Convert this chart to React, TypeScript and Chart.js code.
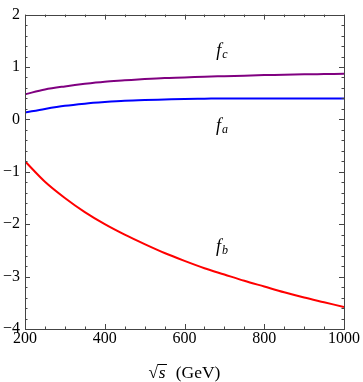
import React, { useEffect, useRef } from "react";
import { Chart, registerables } from "chart.js";

Chart.register(...registerables);

// sqrt(s) in GeV
const energies = [200, 250, 300, 350, 400, 450, 500, 550, 600, 650, 700, 750, 800, 850, 900, 950, 1000];
const fa = [0.13, 0.2, 0.26, 0.3, 0.33, 0.355, 0.37, 0.38, 0.39, 0.395, 0.4, 0.4, 0.4, 0.4, 0.4, 0.4, 0.4];
const fb = [-0.8, -1.19, -1.5, -1.77, -2.0, -2.2, -2.38, -2.55, -2.7, -2.84, -2.96, -3.08, -3.19, -3.3, -3.4, -3.49, -3.58];
const fc = [0.48, 0.57, 0.63, 0.68, 0.72, 0.745, 0.77, 0.79, 0.8, 0.815, 0.825, 0.835, 0.845, 0.85, 0.86, 0.865, 0.87];

const xTicks = [200, 400, 600, 800, 1000];
const yTicks = [-4, -3, -2, -1, 0, 1, 2];

const seriesNames = ["fa", "fb", "fc"];
const curveLabelSubs = ["a", "b", "c"];
const curveLabelX = [694, 694, 694];
const curveLabelY = [-0.13, -2.43, 1.3];

const xTitleMain = "s";
const xTitleUnit = "(GeV)";

const SERIF = "'Liberation Serif', 'DejaVu Serif', serif";

const framePlugin = {
  id: "frameTicks",
  afterDraw(chart: any) {
    const { ctx, chartArea, scales } = chart;
    const { left, right, top, bottom } = chartArea;
    const xs = scales.x;
    const ys = scales.y;
    ctx.save();
    ctx.strokeStyle = "#444";
    ctx.lineWidth = 1;
    ctx.strokeRect(Math.round(left) + 0.5, Math.round(top) + 0.5, Math.round(right - left), Math.round(bottom - top));
    ctx.beginPath();
    for (let v = 200; v <= 1000; v += 50) {
      const major = v % 200 === 0;
      const len = major ? 5 : 2.5;
      const px = Math.round(xs.getPixelForValue(v)) + 0.5;
      ctx.moveTo(px, bottom);
      ctx.lineTo(px, bottom - len);
      ctx.moveTo(px, top);
      ctx.lineTo(px, top + len);
    }
    for (let i = -20; i <= 10; i++) {
      const v = i / 5;
      const major = i % 5 === 0;
      const len = major ? 5 : 2.5;
      const py = Math.round(ys.getPixelForValue(v)) + 0.5;
      ctx.moveTo(left, py);
      ctx.lineTo(left + len, py);
      ctx.moveTo(right, py);
      ctx.lineTo(right - len, py);
    }
    ctx.stroke();

    // curve labels
    ctx.fillStyle = "#000";
    ctx.textBaseline = "alphabetic";
    ctx.textAlign = "left";
    for (let i = 0; i < curveLabelSubs.length; i++) {
      const px = xs.getPixelForValue(curveLabelX[i]);
      const py = ys.getPixelForValue(curveLabelY[i]);
      ctx.font = `italic 18px ${SERIF}`;
      const fw = ctx.measureText("f").width;
      ctx.font = `italic 12px ${SERIF}`;
      const sw = ctx.measureText(curveLabelSubs[i]).width;
      const x0 = px - (fw + sw + 1) / 2;
      const base = py + 5;
      ctx.font = `italic 18px ${SERIF}`;
      ctx.fillText("f", x0, base);
      ctx.font = `italic 12px ${SERIF}`;
      ctx.fillText(curveLabelSubs[i], x0 + fw + 1, base + 2);
    }

    // x axis title: sqrt(s) (GeV)
    const cx = (left + right) / 2;
    const base = 378;
    const fs = 17.5;
    ctx.font = `${fs}px ${SERIF}`;
    const wr = ctx.measureText("\u221A").width;
    ctx.font = `italic ${fs}px ${SERIF}`;
    const ws = ctx.measureText(xTitleMain).width;
    ctx.font = `${fs}px ${SERIF}`;
    const wu = ctx.measureText("  " + xTitleUnit).width;
    let x = cx - (wr + ws + 2 + wu) / 2;
    ctx.font = `${fs}px ${SERIF}`;
    ctx.fillText("\u221A", x, base);
    const barY = Math.round(base - 14.5);
    ctx.beginPath();
    ctx.moveTo(x + wr - 0.5, barY + 0.5);
    ctx.lineTo(x + wr + ws + 2, barY + 0.5);
    ctx.strokeStyle = "#000";
    ctx.lineWidth = 1;
    ctx.stroke();
    x += wr;
    ctx.font = `italic ${fs}px ${SERIF}`;
    ctx.fillText(xTitleMain, x + 0.5, base);
    x += ws + 2;
    ctx.font = `${fs}px ${SERIF}`;
    ctx.fillText("  " + xTitleUnit, x, base);
    ctx.restore();
  },
};

export default function App() {
  const ref = useRef<HTMLCanvasElement | null>(null);
  useEffect(() => {
    document.body.style.margin = "0";
    const canvas = ref.current;
    if (!canvas) return;
    const mk = (vals: number[]) => energies.map((e, i) => ({ x: e, y: vals[i] }));
    const chart = new Chart(canvas, {
      type: "line",
      data: {
        datasets: [
          { label: seriesNames[1], data: mk(fb), borderColor: "rgb(255,0,0)", borderWidth: 2, pointRadius: 0, cubicInterpolationMode: "monotone", fill: false },
          { label: seriesNames[0], data: mk(fa), borderColor: "rgb(0,0,255)", borderWidth: 2, pointRadius: 0, cubicInterpolationMode: "monotone", fill: false },
          { label: seriesNames[2], data: mk(fc), borderColor: "rgb(128,0,128)", borderWidth: 2, pointRadius: 0, cubicInterpolationMode: "monotone", fill: false },
        ],
      },
      options: {
        responsive: false,
        animation: false,
        events: [],
        layout: { padding: { top: 11, right: 19, left: 0, bottom: 0 } },
        plugins: { legend: { display: false }, tooltip: { enabled: false }, title: { display: false } },
        scales: {
          x: {
            type: "linear",
            min: 200,
            max: 1000,
            grid: { display: false, drawTicks: false },
            border: { display: false },
            afterBuildTicks: (s: any) => { s.ticks = xTicks.map((v) => ({ value: v })); },
            afterFit: (s: any) => { s.height = 53; },
            ticks: {
              padding: 0,
              color: "#000",
              font: { family: SERIF, size: 16 },
              maxRotation: 0,
              autoSkip: false,
              callback: (v: any) => String(v),
            },
          },
          y: {
            type: "linear",
            min: -4,
            max: 2,
            grid: { display: false, drawTicks: false },
            border: { display: false },
            afterBuildTicks: (s: any) => { s.ticks = yTicks.map((v) => ({ value: v })); },
            afterFit: (s: any) => { s.width = 25; },
            ticks: {
              padding: 5,
              color: "#000",
              font: { family: SERIF, size: 16 },
              autoSkip: false,
              callback: (v: any) => String(v).replace("-", "\u2212"),
            },
          },
        },
      },
      plugins: [framePlugin],
    } as any);
    return () => chart.destroy();
  }, []);
  return <canvas ref={ref} width={363} height={382} style={{ display: "block" }} />;
}
